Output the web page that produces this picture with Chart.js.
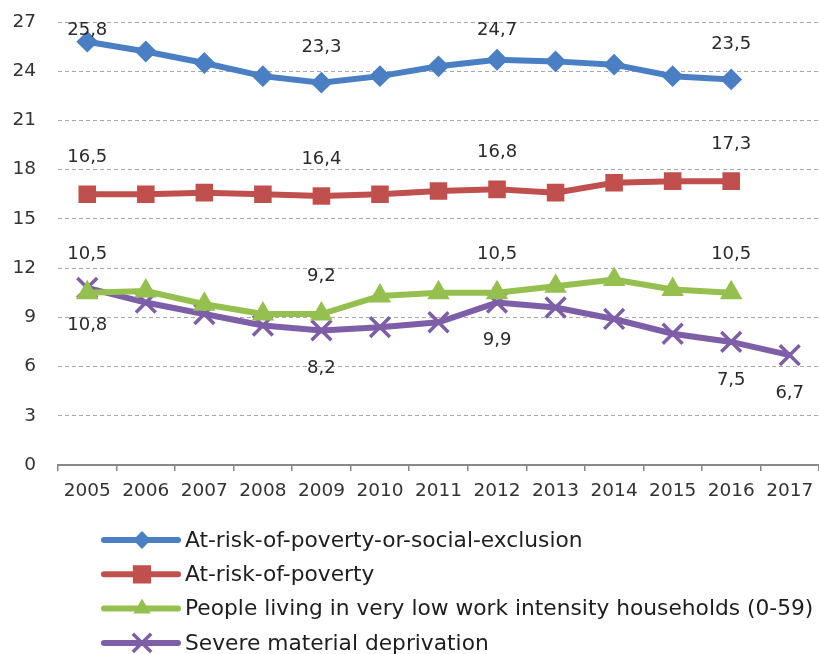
<!DOCTYPE html>
<html><head><meta charset="utf-8">
<script src="https://cdn.jsdelivr.net/npm/chart.js@4"></script>
<style>html,body{margin:0;padding:0;background:#fff}#wrap{width:819px;height:654px}</style>
</head><body><div id="wrap"><canvas id="c" width="819" height="654"></canvas></div>
<script>
const years = ['2005','2006','2007','2008','2009','2010','2011','2012','2013','2014','2015','2016','2017'];
const seriesNames = [
  'At-risk-of-poverty-or-social-exclusion',
  'At-risk-of-poverty',
  'People living in very low work intensity households (0-59)',
  'Severe material deprivation'
];
const aropeValues = [25.8, 25.2, 24.5, 23.7, 23.3, 23.7, 24.3, 24.7, 24.6, 24.4, 23.7, 23.5, null];
const aropValues  = [16.5, 16.5, 16.6, 16.5, 16.4, 16.5, 16.7, 16.8, 16.6, 17.2, 17.3, 17.3, null];
const lwiValues   = [10.5, 10.6, 9.8, 9.2, 9.2, 10.3, 10.5, 10.5, 10.9, 11.3, 10.7, 10.5, null];
const smdValues   = [10.8, 9.9, 9.2, 8.5, 8.2, 8.4, 8.7, 9.9, 9.6, 8.9, 8.0, 7.5, 6.7];
const yMin = 0, yMax = 27, yStep = 3;
const labelledPoints = [[0,4,7,11],[0,4,7,11],[0,4,7,11],[0,4,7,11,12]];

const FONT = 'DejaVu Sans';
const colors = ['#4a7fc3', '#c0504d', '#95c04f', '#7e5fa7'];
const styles = [
  {pointStyle:'rectRot', radius:9.5, bw:2, legendRadius:7.5},
  {pointStyle:'rect', radius:11, bw:2, legendRadius:11.5},
  {pointStyle:'triangle', radius:11, bw:2, legendRadius:8},
  {pointStyle:'crossRot', radius:14, bw:3.5, legendRadius:13}
];
const labelOffsets = [-35, -37, -38, 38];
const seriesValues = [aropeValues, aropValues, lwiValues, smdValues];

const fmt = v => v.toFixed(1).replace('.', ',');

const dataLabelPlugin = {
  id: 'dataLabels',
  afterDatasetsDraw(chart) {
    const ctx = chart.ctx;
    ctx.save();
    ctx.font = '18px "' + FONT + '"';
    ctx.fillStyle = '#2a2a2a';
    ctx.textAlign = 'center';
    ctx.textBaseline = 'middle';
    chart.data.datasets.forEach((ds, i) => {
      const meta = chart.getDatasetMeta(i);
      labelledPoints[i].forEach(idx => {
        const pt = meta.data[idx];
        if (!pt || ds.data[idx] == null) return;
        let y = pt.y + labelOffsets[i];
        if (i === 0) y = Math.max(y, chart.chartArea.top + 8);
        ctx.fillText(fmt(ds.data[idx]), pt.x, y);
      });
    });
    ctx.restore();
  }
};

const legendPlugin = {
  id: 'customLegend',
  afterDraw(chart) {
    const ctx = chart.ctx;
    ctx.save();
    chart.data.datasets.forEach((ds, i) => {
      const y = 540 + i * 34.3;
      ctx.strokeStyle = colors[i];
      ctx.lineWidth = 6;
      ctx.lineCap = 'round';
      ctx.beginPath(); ctx.moveTo(104, y); ctx.lineTo(178, y); ctx.stroke();
      ctx.lineCap = 'butt';
      ctx.fillStyle = colors[i];
      ctx.strokeStyle = colors[i];
      ctx.lineWidth = styles[i].bw;
      Chart.helpers.drawPoint(ctx, {
        pointStyle: styles[i].pointStyle,
        radius: styles[i].legendRadius,
        borderWidth: styles[i].bw
      }, 142, y);
      ctx.font = '21.75px "' + FONT + '"';
      ctx.fillStyle = '#1e1e1e';
      ctx.textAlign = 'left';
      ctx.textBaseline = 'middle';
      ctx.fillText(ds.label, 185, y + 1);
    });
    ctx.restore();
  }
};

new Chart(document.getElementById('c'), {
  type: 'line',
  data: {
    labels: years,
    datasets: seriesNames.map((name, i) => ({
      label: name,
      data: seriesValues[i],
      borderColor: colors[i],
      backgroundColor: colors[i],
      pointBackgroundColor: colors[i],
      pointBorderColor: colors[i],
      borderWidth: 6,
      pointStyle: styles[i].pointStyle,
      pointRadius: styles[i].radius,
      pointBorderWidth: styles[i].bw,
      tension: 0,
      fill: false,
      spanGaps: false
    }))
  },
  options: {
    responsive: false,
    animation: false,
    devicePixelRatio: 1,
    layout: { autoPadding: false, padding: { top: 22, left: 0, right: 0, bottom: 153 } },
    plugins: { legend: { display: false }, tooltip: { enabled: false } },
    scales: {
      x: {
        offset: true,
        grid: { offset: true, drawOnChartArea: false, drawTicks: true, tickLength: 6, color: '#888', lineWidth: 1.5 },
        border: { display: true, color: '#888', width: 2 },
        ticks: { font: { family: FONT, size: 18.5 }, color: '#333', padding: 9, maxRotation: 0, autoSkip: false },
        afterFit(scale) { scale.height = 36; scale.paddingLeft = 0; scale.paddingRight = 0; }
      },
      y: {
        min: yMin, max: yMax,
        ticks: { stepSize: yStep, font: { family: FONT, size: 18.5 }, color: '#333', padding: 22 },
        grid: { drawTicks: false, lineWidth: 1, color: c => c.tick && c.tick.value === 0 ? 'rgba(0,0,0,0)' : '#a8a8a8' },
        border: { display: false, dash: [4, 3] },
        afterFit(scale) { scale.width = 58; scale.paddingTop = 0; scale.paddingBottom = 0; }
      }
    }
  },
  plugins: [dataLabelPlugin, legendPlugin]
});
</script>
</body></html>
